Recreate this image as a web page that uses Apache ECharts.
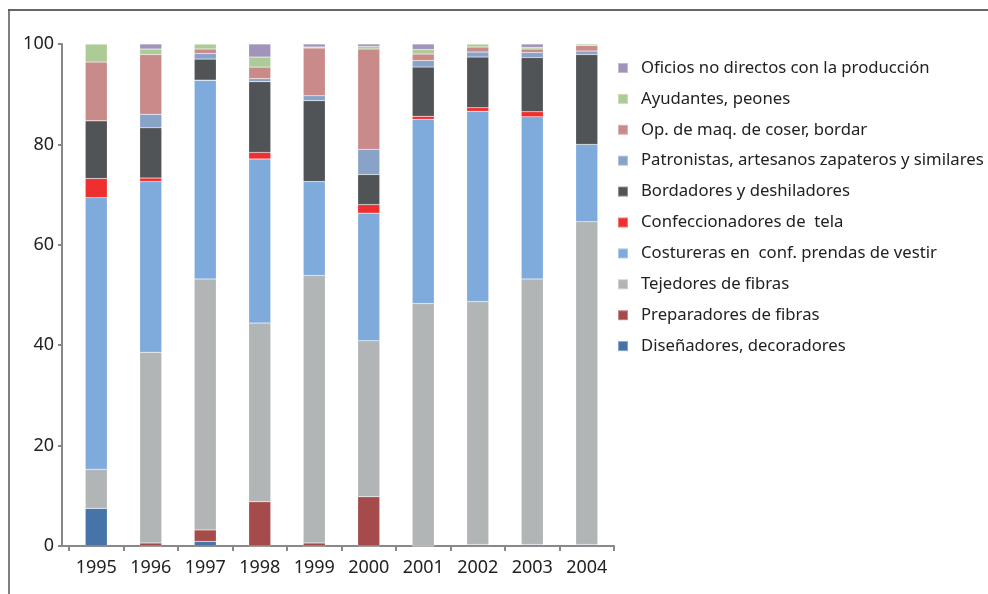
<!DOCTYPE html>
<html>
<head>
<meta charset="utf-8">
<script src="https://cdn.jsdelivr.net/npm/echarts@6/dist/echarts.min.js"></script>
<style>
  html, body { margin: 0; padding: 0; background: #fff; }
  #chart { width: 988px; height: 594px; }
</style>
</head>
<body>
<div id="chart"></div>
<script>
// años
const years = ['1995', '1996', '1997', '1998', '1999', '2000', '2001', '2002', '2003', '2004'];
const yTicks = [0, 20, 40, 60, 80, 100];

// porcentajes por ocupación (de abajo hacia arriba en la barra)
const disenadores   = [7.5, 0,    0.9,  0,    0,    0,    0,    0.3,  0.3,  0.3];
const preparadores  = [0,   0.6,  2.3,  8.8,  0.6,  9.8,  0,    0,    0,    0];
const tejedores     = [7.8, 38.0, 50.0, 35.6, 53.3, 31.1, 48.3, 48.4, 52.9, 64.3];
const costureras    = [54.1, 34.0, 39.6, 32.7, 18.7, 25.4, 36.7, 37.9, 32.3, 15.4];
const confeccion    = [3.8, 0.7,  0,    1.3,  0,    1.7,  0.6,  0.7,  1.0,  0];
const bordadores    = [11.5, 10.0, 4.2, 14.1, 16.1, 6.0,  9.8,  10.1, 10.8, 17.9];
const patronistas   = [0,   2.7,  1.1,  0.6,  1.0,  5.0,  1.3,  1.0,  1.0,  0.7];
const opMaquina     = [11.7, 11.9, 0.9, 2.3,  9.5,  20.0, 1.3,  1.0,  0.7,  1.1];
const ayudantes     = [3.6, 1.1,  1.0,  2.0,  0.2,  0.5,  0.9,  0.6,  0.3,  0.3];
const oficios       = [0,   1.0,  0,    2.6,  0.6,  0.5,  1.1,  0,    0.7,  0];

const seriesDefs = [
    ['Diseñadores, decoradores', disenadores, '#4674a8'],
    ['Preparadores de fibras', preparadores, '#a64b4b'],
    ['Tejedores de fibras', tejedores, '#b2b5b6'],
    ['Costureras en  conf. prendas de vestir', costureras, '#7eabdc'],
    ['Confeccionadores de  tela', confeccion, '#ef2f2f'],
    ['Bordadores y deshiladores', bordadores, '#515456'],
    ['Patronistas, artesanos zapateros y similares', patronistas, '#88a2c8'],
    ['Op. de maq. de coser, bordar', opMaquina, '#c98b8a'],
    ['Ayudantes, peones', ayudantes, '#adcb96'],
    ['Oficios no directos con la producción', oficios, '#a094ba']
];

const font = '"Noto Sans", "Open Sans", sans-serif';

const chart = echarts.init(document.getElementById('chart'));
const option = {
    animation: false,
    textStyle: { fontFamily: font },
    grid: { left: 69, right: 374, top: 44, bottom: 48 },
    legend: {
        orient: 'vertical',
        left: 612,
        top: 53,
        itemWidth: 10,
        itemHeight: 10,
        itemGap: 10.9,
        icon: 'rect',
        textStyle: { fontFamily: font, fontSize: 16.7, color: '#222', lineHeight: 20, padding: [0, 0, 0, 8] },
        data: seriesDefs.map(s => s[0]).reverse()
    },
    xAxis: {
        type: 'category',
        data: years,
        axisLine: { lineStyle: { color: '#888', width: 2 } },
        axisTick: { show: true, length: 5, lineStyle: { color: '#888', width: 2 } },
        axisLabel: { fontSize: 18, color: '#222', margin: 13, fontFamily: font }
    },
    yAxis: {
        type: 'value',
        min: yTicks[0],
        max: yTicks[yTicks.length - 1],
        interval: 20,
        offset: 7,
        splitLine: { show: false },
        axisLine: { show: true, lineStyle: { color: '#888', width: 2 } },
        axisTick: { show: true, length: 4, lineStyle: { color: '#888', width: 2 } },
        axisLabel: { fontSize: 18, color: '#222', margin: 8, fontFamily: font }
    },
    graphic: [
        { type: 'line', shape: { x1: 8, y1: 10, x2: 988, y2: 10 }, style: { stroke: '#666', lineWidth: 2 } },
        { type: 'line', shape: { x1: 9, y1: 10, x2: 9, y2: 594 }, style: { stroke: '#555', lineWidth: 1.5 } },
        { type: 'line', shape: { x1: 62, y1: 546, x2: 69, y2: 546 }, style: { stroke: '#888', lineWidth: 2 } }
    ],
    series: seriesDefs.map(s => ({
        name: s[0],
        type: 'bar',
        stack: 'total',
        barWidth: 22,
        data: s[1],
        itemStyle: { color: s[2], borderColor: 'rgba(255,255,255,0.35)', borderWidth: 0.5 }
    }))
};
chart.setOption(option);
window.addEventListener('resize', function () {
    chart.resize();
});
</script>
</body>
</html>
